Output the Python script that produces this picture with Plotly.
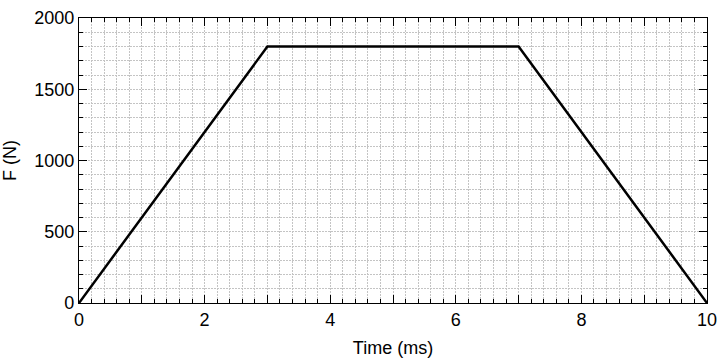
import plotly.graph_objects as go

time_ms = [0, 3, 7, 10]
force_n = [0, 1800, 1800, 0]
x_tickvals = list(range(0, 11))
x_ticktext = [str(v) if v % 2 == 0 else "" for v in x_tickvals]
y_tickvals = [0, 500, 1000, 1500, 2000]

fig = go.Figure()
fig.add_trace(go.Scatter(x=time_ms, y=force_n, mode="lines",
                         line=dict(color="black", width=2.5), showlegend=False))

font = dict(family="Liberation Sans, Arial, sans-serif", size=18, color="black")
gcol = "#c4c4c4"
gdash = "2px,1px"
grid = dict(showgrid=True, gridcolor=gcol, gridwidth=1, griddash=gdash)

fig.update_xaxes(range=[0, 10], tickvals=x_tickvals, ticktext=x_ticktext,
                 ticks="inside", ticklen=8, tickwidth=1.2, tickcolor="black",
                 showline=True, linecolor="black", linewidth=1.2, mirror="allticks",
                 zeroline=False, title=dict(text="Time (ms)", font=font, standoff=12),
                 tickfont=font, automargin=False,
                 minor=dict(dtick=0.2, ticks="inside", ticklen=4, tickwidth=1, tickcolor="black",
                            showgrid=True, gridcolor=gcol, gridwidth=1, griddash=gdash),
                 **grid)
fig.update_yaxes(range=[0, 2000], tickvals=y_tickvals,
                 ticks="inside", ticklen=8, tickwidth=1.2, tickcolor="black",
                 showline=True, linecolor="black", linewidth=1.2, mirror="allticks",
                 zeroline=False, title=dict(text="F (N)", font=font, standoff=13),
                 tickfont=font, automargin=False,
                 minor=dict(dtick=100, ticks="inside", ticklen=4, tickwidth=1, tickcolor="black",
                            showgrid=True, gridcolor=gcol, gridwidth=1, griddash=gdash),
                 **grid)

fig.update_layout(width=720, height=360, plot_bgcolor="white", paper_bgcolor="white",
                  margin=dict(l=79, r=13, t=18, b=57), font=font)
fig.write_html("out.html", config={"displayModeBar": False},
               post_script="document.body.style.margin='0px';document.body.style.overflow='hidden';")
